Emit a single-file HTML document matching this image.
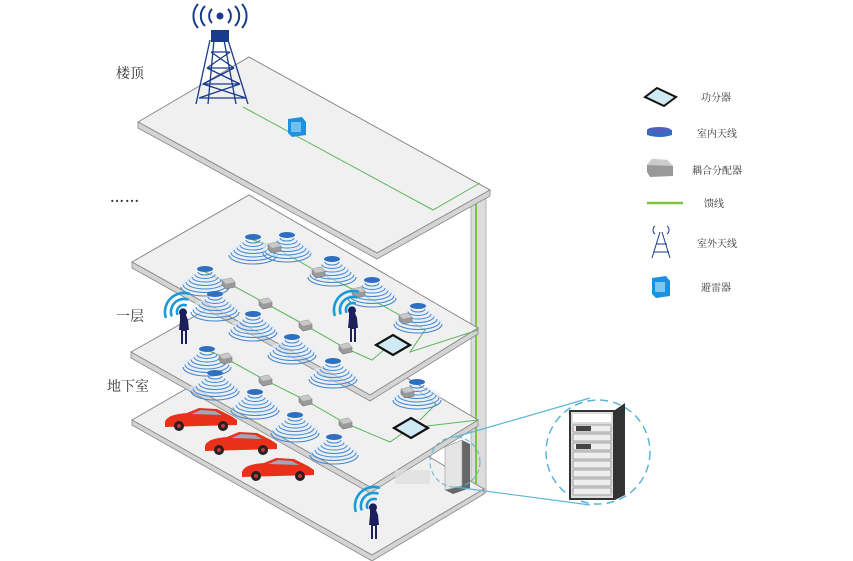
<!DOCTYPE html>
<html><head><meta charset="utf-8"><style>
body{margin:0;background:#fff;width:853px;height:561px;overflow:hidden;font-family:"Liberation Serif","Noto Serif CJK SC",serif}
svg{position:absolute;left:0;top:0}
.t{font-family:"Liberation Serif","Noto Serif CJK SC",serif;fill:#333}
</style></head><body>
<svg width="853" height="561" viewBox="0 0 853 561">
<defs>
<g id="ant">
<ellipse cx="0" cy="15" rx="24" ry="9" fill="#e6eef8" opacity="0.6"/>
<path d="M-7,4 A7,3 0 0 0 7,4 M-10,6.5 A10,4 0 0 0 10,6.5 M-13,9 A13,5 0 0 0 13,9 M-16,11.5 A16,6 0 0 0 16,11.5 M-19,14 A19,7 0 0 0 19,14 M-22,16.5 A22,8 0 0 0 22,16.5 M-24,19 A24,9 0 0 0 24,19" fill="none" stroke="#3f86d0" stroke-width="1"/>
<ellipse cx="0" cy="1" rx="8" ry="3" fill="#2f6fc0"/>
</g>
<g id="cp"><path d="M-6,-3 L3,-5 L7,-1 L7,4 L-2,6 L-6,2 Z" fill="#9a9a9a" stroke="#777" stroke-width="0.6"/><path d="M-6,-3 L3,-5 L7,-1 L-2,1 Z" fill="#c8c8c8"/></g>
<g id="sp"><path d="M-17,0 L0,-10 L17,0 L0,10 Z" fill="#cfeaf4" stroke="#111" stroke-width="2.2"/></g>
<g id="man"><path d="M-3,-15 a4,4 0 1 1 6,0 l2,5 l1,10 l-2,0 l0,14 l-2,0 l0,-13 l-2,0 l0,13 l-2,0 l0,-14 l-2,0 l1,-10 z" fill="#1c1f5c"/></g>
<g id="wifi" fill="none" stroke="#1a9ad8" stroke-width="2.6" stroke-linecap="round">
<path d="M-6.8,1.8 A7,7 0 0 1 1.8,-6.8"/>
<path d="M-12.6,3.4 A13,13 0 0 1 3.4,-12.6"/>
<path d="M-18.4,4.9 A19,19 0 0 1 4.9,-18.4"/>
</g>
<g id="car"><path d="M0,10 C2,4 10,2 22,1 L34,-4 L52,-3 L66,4 L72,8 L72,13 L0,15 Z" fill="#e8301a"/><path d="M26,2 L36,-2 L50,-1 L57,3 Z" fill="#9ab"/><circle cx="14" cy="14" r="5" fill="#222"/><circle cx="58" cy="14" r="5" fill="#222"/><circle cx="14" cy="14" r="2" fill="#c33"/><circle cx="58" cy="14" r="2" fill="#c33"/></g>
</defs>

<rect x="471" y="188" width="15" height="305" fill="#dcdcdc" stroke="#aaa" stroke-width="0.8"/>
<line x1="476" y1="188" x2="476" y2="492" stroke="#7cc63e" stroke-width="2"/>

<path d="M132,420 L250,352 L484,489 L372,555 Z" fill="#f0f0f0" stroke="#888" stroke-width="1"/>
<path d="M132,420 L372,555 L484,489 L484,494 L372,561 L132,425 Z" fill="#d4d4d4" stroke="#888" stroke-width="0.8"/>

<path d="M131,352 L250,285 L478,420 L370,487 Z" fill="#f0f0f0" stroke="#888" stroke-width="1"/>
<path d="M131,352 L370,487 L478,420 L478,426 L370,493 L131,358 Z" fill="#d4d4d4" stroke="#888" stroke-width="0.8"/>
<rect x="395" y="470" width="35" height="14" fill="#ddd" opacity="0.7"/>

<path d="M132,262 L249,195 L478,328 L370,395 Z" fill="#f0f0f0" stroke="#888" stroke-width="1"/>
<path d="M132,262 L370,395 L478,328 L478,334 L370,401 L132,268 Z" fill="#d4d4d4" stroke="#888" stroke-width="0.8"/>

<path d="M138,122 L249,57 L490,190 L377,253 Z" fill="#f0f0f0" stroke="#888" stroke-width="1"/>
<path d="M138,122 L377,253 L490,190 L490,196 L377,259 L138,128 Z" fill="#d4d4d4" stroke="#888" stroke-width="0.8"/>

<polyline points="243,107 433,210 480,183" fill="none" stroke="#5cb85c" stroke-width="1"/>
<g transform="translate(296,127)"><path d="M-8,-8 L6,-10 L10,-5 L10,8 L-4,10 L-8,6 Z" fill="#1e90e0"/><rect x="-5" y="-5" width="10" height="10" fill="#6fc0f0"/></g>

<g stroke="#1a3a8a" stroke-width="1.3" fill="none">
<path d="M210,40 L196,104 M228,40 L248,104 M214,40 L208,104 M224,40 L236,104"/>
<path d="M211,52 L230,52 M207,68 L234,68 M203,84 L240,84 M199,98 L246,98 M211,52 L234,68 M230,52 L207,68 M207,68 L240,84 M234,68 L203,84 M203,84 L246,98 M240,84 L199,98"/>
</g>
<rect x="211" y="30" width="18" height="12" fill="#1a3a8a"/>
<circle cx="220" cy="16" r="3.5" fill="#1a3a8a"/>
<g fill="none" stroke="#1a3a8a" stroke-width="2"><path d="M212,9 A10,10 0 0 0 212,23 M228,9 A10,10 0 0 1 228,23 M205,6 A14,14 0 0 0 205,26 M235,6 A14,14 0 0 1 235,26 M198,4 A18,18 0 0 0 198,28 M242,4 A18,18 0 0 1 242,28"/></g>

<g fill="none" stroke="#5cb85c" stroke-width="1">
<polyline points="253,240 274,247 318,272 358,292 405,318 425,330 410,352 478,330"/>
<polyline points="205,272 228,283 265,303 305,325 345,348 372,360 392,343"/>
<polyline points="207,350 225,358 265,380 305,400 345,423 390,442 410,428 478,420"/>
<polyline points="417,390 436,404 420,420"/>
</g>
<use href="#ant" x="253" y="236"/><use href="#ant" x="287" y="234"/><use href="#ant" x="332" y="258"/><use href="#ant" x="372" y="279"/><use href="#ant" x="418" y="305"/>
<use href="#ant" x="205" y="268"/><use href="#ant" x="215" y="293"/><use href="#ant" x="253" y="313"/><use href="#ant" x="292" y="336"/><use href="#ant" x="333" y="360"/>
<use href="#cp" x="274" y="247"/><use href="#cp" x="318" y="272"/><use href="#cp" x="358" y="292"/><use href="#cp" x="405" y="318"/>
<use href="#cp" x="228" y="283"/><use href="#cp" x="265" y="303"/><use href="#cp" x="305" y="325"/><use href="#cp" x="345" y="348"/>
<use href="#sp" x="393" y="345"/>
<use href="#ant" x="207" y="348"/><use href="#ant" x="215" y="372"/><use href="#ant" x="255" y="391"/><use href="#ant" x="295" y="414"/><use href="#ant" x="334" y="436"/><use href="#ant" x="417" y="381"/>
<use href="#cp" x="225" y="358"/><use href="#cp" x="265" y="380"/><use href="#cp" x="305" y="400"/><use href="#cp" x="345" y="423"/><use href="#cp" x="407" y="392"/>
<use href="#sp" x="411" y="428"/>

<use href="#wifi" x="184" y="312"/><use href="#man" x="183" y="330"/>
<use href="#wifi" x="353" y="310"/><use href="#man" x="352" y="328"/>
<use href="#wifi" x="374" y="506"/><use href="#man" x="373" y="525"/>

<use href="#car" x="165" y="412"/><use href="#car" x="205" y="436"/><use href="#car" x="242" y="462"/>

<path d="M445,447 L462,440 L470,444 L470,488 L453,494 L445,490 Z" fill="#666"/>
<path d="M445,447 L462,440 L462,486 L445,490 Z" fill="#e5e5e5" stroke="#999" stroke-width="0.6"/>
<circle cx="455" cy="462" r="25" fill="none" stroke="#5ab6d6" stroke-width="1" stroke-dasharray="5,3"/>
<line x1="455" y1="437" x2="590" y2="398" stroke="#5ab6d6" stroke-width="1.2"/>
<line x1="455" y1="487" x2="590" y2="505" stroke="#5ab6d6" stroke-width="1.2"/>
<circle cx="598" cy="452" r="52" fill="#fff" stroke="#5ab6d6" stroke-width="1.5" stroke-dasharray="8,5"/>
<path d="M569,410 L615,410 L625,403 L625,495 L615,500 L569,500 Z" fill="#333"/>
<rect x="571" y="412" width="42" height="86" fill="#ddd"/>
<rect x="573" y="414" width="38" height="8" fill="#fff"/>
<g fill="#eee" stroke="#777" stroke-width="0.6">
<rect x="573" y="425" width="38" height="7"/><rect x="573" y="434" width="38" height="7"/><rect x="573" y="443" width="38" height="7"/><rect x="573" y="452" width="38" height="7"/><rect x="573" y="461" width="38" height="7"/><rect x="573" y="470" width="38" height="7"/><rect x="573" y="479" width="38" height="7"/><rect x="573" y="488" width="38" height="7"/>
</g>
<rect x="576" y="426" width="15" height="5" fill="#444"/><rect x="576" y="444" width="15" height="5" fill="#444"/>

<text class="t" x="116" y="78" font-size="14">楼顶</text>
<text class="t" x="110" y="202" font-size="14" font-weight="bold" letter-spacing="1">……</text>
<text class="t" x="116" y="321" font-size="14">一层</text>
<text class="t" x="107" y="391" font-size="14">地下室</text>

<path d="M645,97 L657,88 L676,97 L664,106 Z" fill="#cfeaf4" stroke="#111" stroke-width="2"/>
<path d="M647,130 L672,130 L672,135 Q660,139 647,135 Z" fill="#2f6fc0"/><ellipse cx="659" cy="130" rx="12" ry="3" fill="#5060c0"/>
<path d="M647,165 L652,159 L667,160 L673,166 L673,176 L650,177 L647,172 Z" fill="#999"/><path d="M647,165 L652,159 L667,160 L673,166 Z" fill="#ccc"/>
<line x1="647" y1="203" x2="683" y2="203" stroke="#7cc63e" stroke-width="2.5"/>
<g stroke="#1a3a8a" stroke-width="1" fill="none"><path d="M660,232 L652,258 M662,232 L670,258 M656,244 L667,244 M654,252 L669,252"/><path d="M655,226 A5,5 0 0 0 655,234 M667,226 A5,5 0 0 1 667,234"/></g>
<g transform="translate(660,287)"><path d="M-8,-9 L6,-11 L10,-6 L10,9 L-4,11 L-8,7 Z" fill="#1e90e0"/><rect x="-5" y="-5" width="10" height="10" fill="#7cc8f0"/></g>
<text class="t" x="701" y="101" font-size="10">功分器</text>
<text class="t" x="697" y="137" font-size="10">室内天线</text>
<text class="t" x="692" y="174" font-size="10">耦合分配器</text>
<text class="t" x="704" y="207" font-size="10">馈线</text>
<text class="t" x="697" y="247" font-size="10">室外天线</text>
<text class="t" x="701" y="291" font-size="10">避雷器</text>
</svg>
</body></html>
